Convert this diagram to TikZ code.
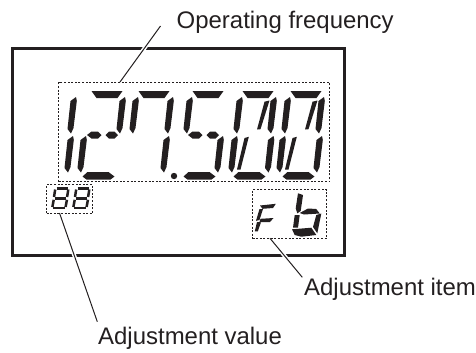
\documentclass[tikz,border=0pt]{standalone}
\usepackage{fontspec}
\usetikzlibrary{calc}
\setmainfont{Liberation Sans}
\definecolor{ink}{HTML}{231F20}
\tikzset{
  x=1bp,y=-1bp,
  seg/.style={fill=ink,draw=none},
  frame/.style={draw=ink,line width=2.5bp,minimum width=332bp,minimum height=207bp,inner sep=0pt,anchor=north west},
  dotbox/.style={draw=ink,line width=1.2bp,dash pattern=on 2bp off 1.6bp,inner sep=0pt,anchor=north west},
  label/.style={text=ink,anchor=base west,inner sep=0pt,font=\fontsize{23.95bp}{26bp}\selectfont},
  leader/.style={draw=ink,line width=1bp},
  halo/.style={draw=white,line width=4bp},
  thinseg/.style={draw=ink,line width=2.5bp}
}
\newcommand{\sTop}[1]{\fill[seg] (#1,0) ++(-0.5,91) -- ++(31,0) -- ++(-5,7) -- ++(-21,0) -- cycle;}
\newcommand{\sBot}[1]{\fill[seg] (#1,0) ++(-4.5,172) -- ++(21,0) -- ++(6,4.5) -- ++(-4,3) -- ++(-24,0) -- ++(-4,-3) -- cycle;}
\newcommand{\sVert}[3]{\fill[seg] (#1+#2,#3) ++(-1,97) -- ++(.8,4) -- ++(-3.3,27) -- ++(-2.5,5.5) -- ++(-3.5,-4.5) -- ++(3,-28) -- cycle;}
\newcommand{\sUL}[1]{\sVert{#1}{0}{0}}
\newcommand{\sUR}[1]{\sVert{#1}{34}{0}}
\newcommand{\sLL}[1]{\sVert{#1}{-5}{39}}
\newcommand{\sLR}[1]{\sVert{#1}{31}{39}}
\newcommand{\sMid}[1]{%
 \fill[seg] (#1,0) ++(-5,135) -- ++(4.5,-3.5) -- ++(6.5,0) -- ++(3.5,3.5) -- ++(-3.5,3.5) -- ++(-6.5,0) -- cycle;
 \fill[seg] (#1,0) ++(13.5,135) -- ++(3.5,-3.5) -- ++(5.5,0) -- ++(3.5,3.5) -- ++(-3.5,3.5) -- ++(-5.5,0) -- cycle;}
\newcommand{\sDiag}[1]{%
 \fill[seg] (#1,0) ++(21.5,101.7) -- ++(5,-1.2) -- ++(-9,28.7) -- ++(-3.5,0.3) -- cycle;
 \fill[seg] (#1,0) ++(1.5,138) -- ++(4.3,-1.2) -- ++(-8.3,32.7) -- ++(-3.5,0) -- cycle;}
\newcommand{\smalleight}[1]{%
 \draw[thinseg] (#1+5.5,188.3) -- (#1+16.5,188.3);
 \draw[thinseg] (#1+4.2,189.5) -- (#1+3,197);
 \draw[thinseg] (#1+17.3,189.5) -- (#1+16.1,197);
 \draw[thinseg] (#1+4.2,198.3) -- (#1+15,198.3);
 \draw[thinseg] (#1+2.7,199.8) -- (#1+1.4,207);
 \draw[thinseg] (#1+15.9,199.8) -- (#1+14.6,207);
 \draw[thinseg] (#1+2.4,208.2) -- (#1+14,208.2);}
\begin{document}
\begin{tikzpicture}
\useasboundingbox (0,0) rectangle (476,352);
% frame
\node[frame] (lcd) at (11,47) {};
% dotted boxes
\node[dotbox,minimum width=271bp,minimum height=99bp] (freqbox) at (58,82) {};
\node[dotbox,minimum width=46bp,minimum height=29bp] (valbox) at (46,184) {};
\node[dotbox,minimum width=74bp,minimum height=49bp] (itembox) at (252,189) {};
% labels
\node[label] (freqlabel) at (176.5,28) {Operating frequency};
\node[label] (itemlabel) at (304,295) {Adjustment item};
\node[label] (vallabel) at (98,344) {Adjustment value};
% leader ends
\coordinate (f1) at (160.5,26);
\coordinate (f0) at (120,82);
\coordinate (i0) at (270,238.3);
\coordinate (i1) at (302.3,277.3);
\coordinate (v0) at (59.5,213);
\coordinate (v1) at (97.3,321.7);
% halos over the frame
\draw[halo] ($(f0)!0.55!(f1)$) -- ($(f0)!0.75!(f1)$);
\draw[halo] ($(i0)!0.25!(i1)$) -- ($(i0)!0.6!(i1)$);
\draw[halo] ($(v0)!0.3!(v1)$) -- ($(v0)!0.45!(v1)$);
\draw[leader] (f0) -- (f1);
\draw[leader] (i0) -- (i1);
\draw[leader] (v0) -- (v1);
% digit 1
\sUR{43}\sLR{43}
% digit 2
\sTop{92}\sUR{92}\sMid{92}\sLL{92}\sBot{92}
% digit 7
\sTop{139}\sUL{139}\sUR{140}\sLR{139}
\fill[seg] (174,176) circle (3.2);
% digit 5
\sTop{193}\sUL{193}\sMid{193}\sLR{193}\sBot{193}
% digit 0
\sTop{243}\sUL{243}\sUR{243}\sLL{243}\sLR{243.5}\sBot{243}\sDiag{243}
% digit 0
\sTop{291}\sUL{291}\sUR{291}\sLL{291}\sLR{292}\sBot{292}\sDiag{291}
% small 88
\smalleight{51}
\smalleight{72}
% F
\fill[seg] (260,205.5) -- (275.8,203.8) -- (273,208) -- (262.5,208.8) -- cycle;
\fill[seg] (259.5,209) -- (263,209) -- (259.5,220) -- (256,220.8) -- cycle;
\fill[seg] (260.5,218.8) -- (273.5,218) -- (270,222) -- (259.5,222) -- cycle;
\fill[seg] (257,222) -- (261,222.3) -- (257.8,231.3) -- (254.8,231.3) -- cycle;
% b
\fill[seg] (298,193.3) -- (303,195) -- (300.7,211) -- (297.3,213.3) -- (295.7,208.3) -- cycle;
\fill[seg] (299.7,213) -- (308,208.5) -- (316.3,209) -- (319.7,213.5) -- (304,214.5) -- cycle;
\fill[seg] (294.7,215) -- (299.7,215) -- (298,227.7) -- (293,227.7) -- cycle;
\fill[seg] (316.3,215) -- (321.3,213.5) -- (317.3,233.3) -- (313,227) -- cycle;
\fill[seg] (292,229.3) -- (311.3,227.7) -- (316.3,235) -- (301.3,236.7) -- (294.7,235) -- cycle;
\end{tikzpicture}
\end{document}
